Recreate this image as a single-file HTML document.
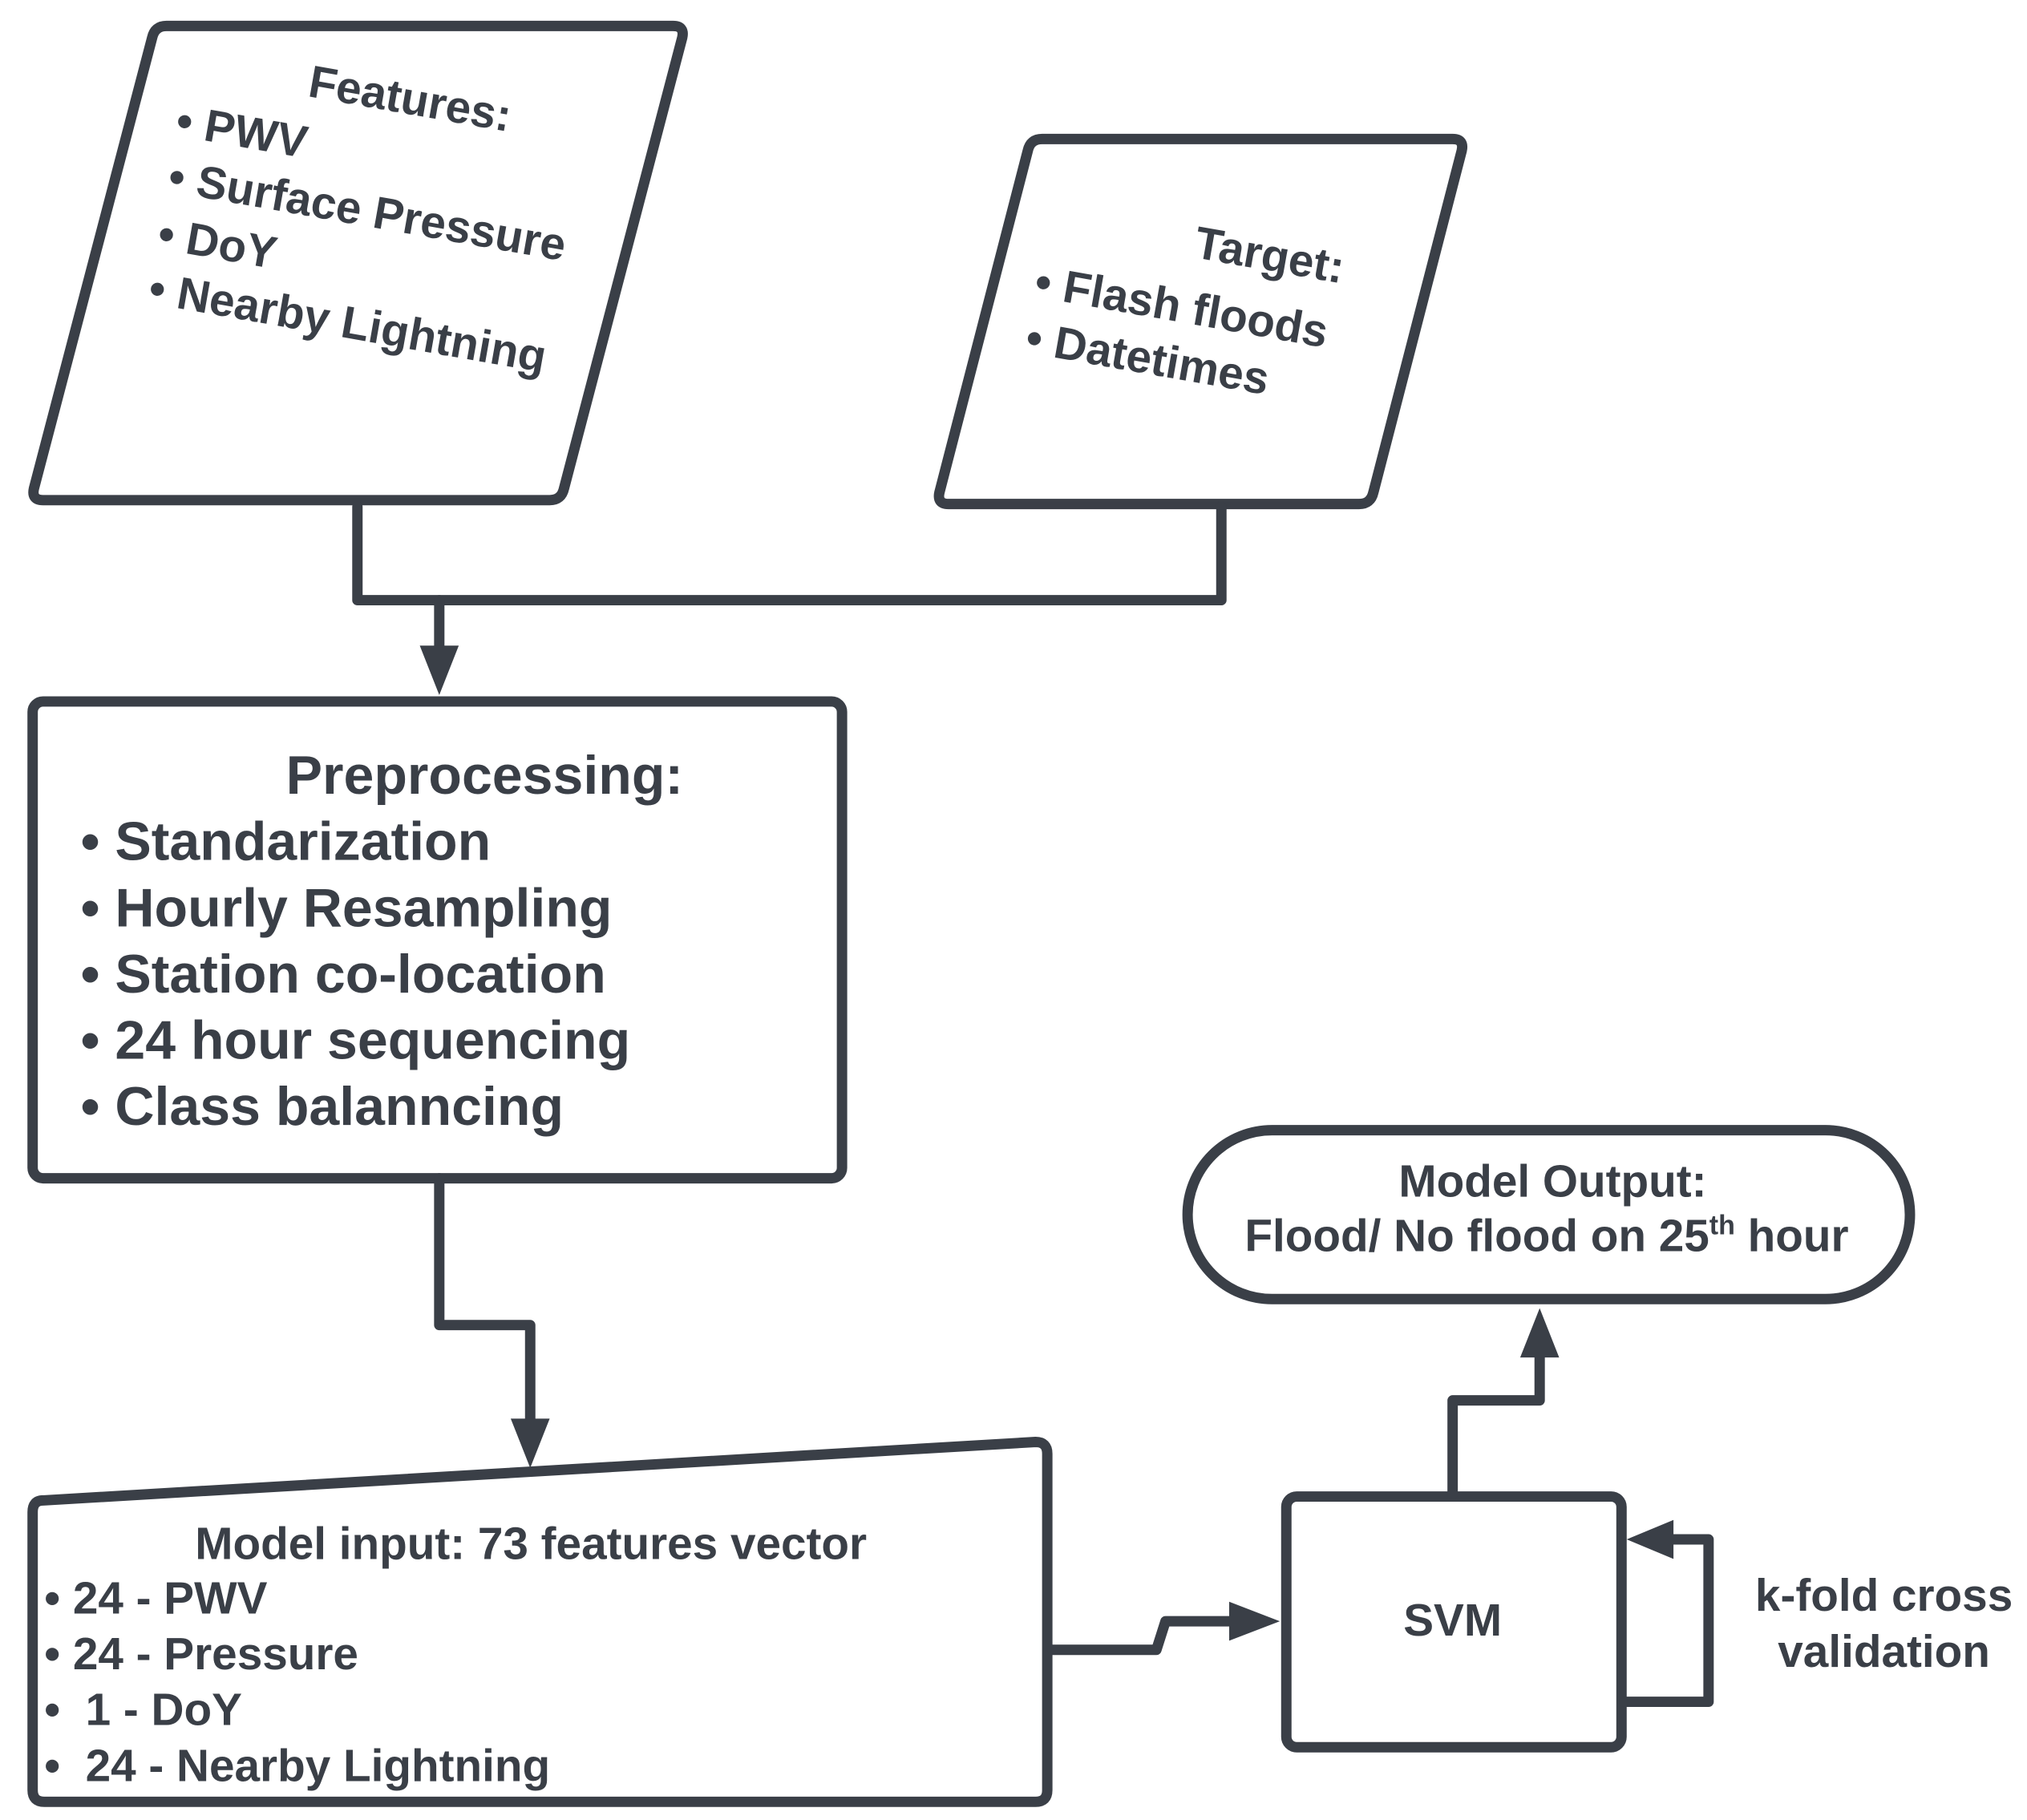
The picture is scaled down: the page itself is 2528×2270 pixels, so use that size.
<!DOCTYPE html>
<html><head><style>
html,body{margin:0;padding:0;background:#fff;}
svg{display:block;}
text{font-family:"Liberation Sans",Arial,sans-serif;font-weight:bold;fill:#3a3f47;}
</style></head><body>
<svg width="2528" height="2270" viewBox="0 0 1560 1401" xmlns="http://www.w3.org/2000/svg">
<g fill="none" stroke="#3a3f47" stroke-width="8" stroke-linejoin="round" stroke-linecap="round">
<path d="M128,20 L518,20 Q527,20 525,29 L434,376 Q432,385 423,385 L33,385 Q24,385 26,376 L117,29 Q119,20 128,20 Z" fill="#fff"/>
<path d="M802,107 L1118,107 Q1127,107 1125,116 L1057,379 Q1055,388 1046,388 L730,388 Q721,388 723,379 L791,116 Q793,107 802,107 Z" fill="#fff"/>
<path d="M275,390 L275,462 L940,462 L940,390"/>
<path d="M338,462 L338,505"/>
<rect x="25" y="540" width="623" height="367" rx="8" fill="#fff"/>
<path d="M338,907 L338,1020 L408,1020 L408,1095"/>
<path d="M33,1155 L797,1110 Q806,1110 806,1119 L806,1378 Q806,1387 797,1387 L34,1387 Q25,1387 25,1378 L25,1164 Q25,1155 33,1155 Z" fill="#fff"/>
<path d="M810,1270 L890,1270 L897,1248 L955,1248"/>
<rect x="990" y="1152" width="258" height="193" rx="8" fill="#fff"/>
<path d="M1250,1310 L1315,1310 L1315,1185 L1280,1185"/>
<path d="M1118,1150 L1118,1078 L1185,1078 L1185,1040"/>
<rect x="914" y="870" width="556" height="130" rx="65" fill="#fff"/>
</g>
<g fill="#3a3f47">
<polygon points="323,497 353,497 338,535"/>
<polygon points="393,1092 423,1092 408,1130"/>
<polygon points="946,1233 946,1263 985,1248"/>
<polygon points="1288,1170 1288,1200 1252,1185"/>
<polygon points="1170,1045 1200,1045 1185,1007"/>
</g>
<g font-size="35">
<text x="236" y="74" transform="rotate(10 236 74)">Features:</text>
<text x="134" y="104" transform="rotate(10 134 104)">• PWV</text>
<text x="128" y="147" transform="rotate(10 128 147)">• Surface Pressure</text>
<text x="120" y="191" transform="rotate(10 120 191)">• DoY</text>
<text x="113" y="233" transform="rotate(10 113 233)">• Nearby Lightning</text>
<text x="918" y="198" transform="rotate(10 918 198)">Target:</text>
<text x="795" y="228" transform="rotate(10 795 228)">• Flash floods</text>
<text x="788" y="271" transform="rotate(10 788 271)">• Datetimes</text>
</g>
<g font-size="42">
<text x="220" y="611">Preprocessing:</text>
<text x="62" y="662">• Standarization</text>
<text x="62" y="713">• Hourly Resampling</text>
<text x="62" y="764">• Station co-location</text>
<text x="62" y="815">• 24 hour sequencing</text>
<text x="62" y="866">• Class balanncing</text>
</g>
<g font-size="35">
<text x="150" y="1200">Model input: 73 features vector</text>
<text x="34" y="1242">• 24 - PWV</text>
<text x="34" y="1285">• 24 - Pressure</text>
<text x="34" y="1328" xml:space="preserve">•  1 - DoY</text>
<text x="34" y="1371" xml:space="preserve">•  24 - Nearby Lightning</text>
<text x="1118" y="1259" text-anchor="middle">SVM</text>
<text x="1450" y="1240" text-anchor="middle">k-fold cross</text>
<text x="1450" y="1283" text-anchor="middle">validation</text>
<text x="1195" y="921" text-anchor="middle">Model Output:</text>
<text x="958" y="963">Flood/ No flood on 25<tspan font-size="21" dy="-13">th</tspan><tspan dy="13"> hour</tspan></text>
</g>
</svg>
</body></html>
